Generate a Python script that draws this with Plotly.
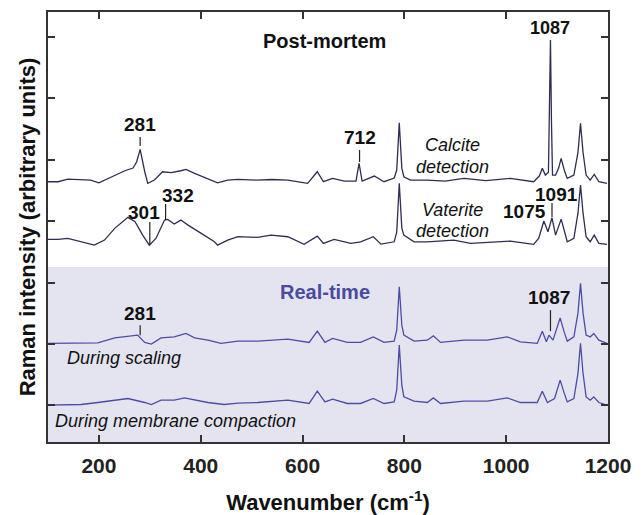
import plotly.graph_objects as go

# ---------------- data ----------------
calcite_wn = [100, 120, 139, 184, 200, 224, 251, 267, 274, 281, 286, 290, 296, 309, 325, 342, 361, 371, 388,
              414, 433, 453, 473, 510, 540, 571, 610, 629, 641, 659, 682, 705, 711, 717, 741, 760, 780, 785,
              790, 795, 799, 812, 845, 880, 917, 960, 1008, 1054, 1065, 1071, 1077, 1083, 1085, 1087, 1089,
              1091, 1097, 1103, 1108, 1114, 1120, 1133, 1141, 1146, 1151, 1157, 1165, 1173, 1182, 1198]
calcite_int = [3.643, 3.643, 3.687, 3.670, 3.626, 3.724, 3.822, 3.866, 3.964, 4.171, 3.964, 3.806, 3.617,
               3.670, 3.806, 3.790, 3.822, 3.845, 3.780, 3.698, 3.626, 3.670, 3.682, 3.670, 3.679, 3.670,
               3.617, 3.806, 3.643, 3.698, 3.654, 3.654, 3.943, 3.654, 3.736, 3.643, 3.703, 3.834, 4.605,
               3.866, 3.724, 3.670, 3.670, 3.654, 3.698, 3.662, 3.698, 3.643, 3.736, 3.861, 3.752, 3.800,
               4.700, 5.954, 4.600, 3.752, 3.752, 3.866, 4.024, 3.834, 3.698, 3.752, 4.120, 4.595, 4.120,
               3.752, 3.670, 3.763, 3.643, 3.617]

vaterite_wn = [100, 120, 139, 165, 191, 211, 231, 257, 271, 286, 299, 312, 329, 335, 348, 361, 375, 401, 427,
               433, 453, 473, 512, 538, 571, 603, 629, 641, 662, 695, 714, 739, 754, 780, 785, 790, 795, 799,
               819, 845, 897, 930, 976, 1008, 1054, 1064, 1074, 1082, 1090, 1097, 1108, 1114, 1120, 1133,
               1141, 1146, 1151, 1157, 1165, 1173, 1182, 1198]
vaterite_int = [2.703, 2.703, 2.719, 2.664, 2.610, 2.692, 2.883, 3.062, 2.990, 2.773, 2.610, 2.719, 3.018,
                3.029, 2.953, 3.018, 2.936, 2.801, 2.664, 2.610, 2.692, 2.749, 2.736, 2.773, 2.746, 2.622,
                2.757, 2.638, 2.703, 2.638, 2.664, 2.746, 2.626, 2.664, 2.822, 3.617, 2.887, 2.773, 2.664,
                2.664, 2.692, 2.638, 2.664, 2.675, 2.622, 2.724, 3.002, 2.827, 3.055, 2.773, 3.034, 2.855,
                2.664, 2.719, 3.130, 3.589, 3.130, 2.746, 2.664, 2.773, 2.638, 2.622]

scaling_wn = [100, 139, 198, 231, 257, 276, 290, 303, 322, 348, 371, 388, 414, 440, 473, 512, 571, 613, 629,
              644, 659, 688, 714, 739, 760, 780, 785, 790, 795, 799, 819, 845, 857, 871, 917, 963, 1002,
              1028, 1061, 1071, 1079, 1084, 1092, 1106, 1114, 1120, 1133, 1141, 1146, 1151, 1157, 1165,
              1172, 1182, 1198]
scaling_int = [1.007, 1.007, 1.016, 1.098, 1.130, 1.142, 1.023, 0.995, 1.098, 1.114, 1.170, 1.098, 1.060,
               1.007, 1.044, 1.044, 1.077, 1.023, 1.207, 1.023, 1.088, 1.023, 1.023, 1.114, 1.023, 1.044,
               1.223, 1.930, 1.305, 1.142, 1.044, 1.060, 1.130, 1.023, 1.060, 1.060, 1.114, 1.033, 1.007,
               1.207, 1.033, 1.142, 1.060, 1.424, 1.191, 1.044, 1.114, 1.500, 1.985, 1.500, 1.142, 1.114,
               1.170, 1.060, 1.007]

compaction_wn = [100, 165, 198, 231, 257, 290, 303, 322, 348, 368, 388, 414, 446, 473, 512, 571, 613, 629,
                 644, 659, 688, 714, 739, 760, 780, 785, 790, 795, 799, 819, 845, 857, 871, 917, 963, 1002,
                 1028, 1061, 1071, 1081, 1095, 1106, 1114, 1120, 1133, 1141, 1146, 1151, 1157, 1165, 1172,
                 1182, 1198]
compaction_int = [0.000, 0.011, 0.044, 0.082, 0.109, 0.044, 0.011, 0.082, 0.082, 0.119, 0.082, 0.044, 0.011,
                  0.033, 0.044, 0.082, 0.028, 0.228, 0.054, 0.098, 0.028, 0.028, 0.109, 0.028, 0.054, 0.245,
                  0.979, 0.326, 0.135, 0.065, 0.044, 0.119, 0.028, 0.065, 0.065, 0.119, 0.044, 0.044, 0.228,
                  0.044, 0.109, 0.408, 0.196, 0.054, 0.109, 0.520, 1.007, 0.520, 0.135, 0.082, 0.135, 0.044,
                  0.000]

x_ticks = [200, 400, 600, 800, 1000, 1200]
y_ticks = [0, 1, 2, 3, 4, 5, 6]

# ---------------- styling ----------------
PM_COLOR = "#2e2e52"
RT_COLOR = "#4c4ca6"
SHADE = "#e4e4f1"
FONT = "Liberation Sans, Arial, sans-serif"

fig = go.Figure()
for wn, val, col in [(calcite_wn, calcite_int, PM_COLOR), (vaterite_wn, vaterite_int, PM_COLOR),
                     (scaling_wn, scaling_int, RT_COLOR), (compaction_wn, compaction_int, RT_COLOR)]:
    fig.add_trace(go.Scatter(x=wn, y=val, mode="lines", line=dict(color=col, width=1.3),
                             showlegend=False, hoverinfo="skip"))

# shaded real-time region
fig.add_shape(type="rect", xref="x domain", yref="y", x0=0, x1=1, y0=-0.6, y1=2.251,
              fillcolor=SHADE, line_width=0, layer="below")

# peak marker lines
for x, y0, y1 in [(281, 4.225, 4.372), (712, 3.964, 4.160), (300, 2.610, 2.985), (331, 3.018, 3.279),
                  (1090, 3.067, 3.295), (281, 1.142, 1.305), (1087, 1.207, 1.550)]:
    fig.add_shape(type="line", x0=x, x1=x, y0=y0, y1=y1, line=dict(color="#222222", width=1.2))

def ann(text, x, y, size, bold=False, italic=False, color="#111111", xanchor="center"):
    t = text
    if bold:
        t = "<b>" + t + "</b>"
    if italic:
        t = "<i>" + t + "</i>"
    fig.add_annotation(x=x, y=y, text=t, showarrow=False, xanchor=xanchor, yanchor="middle",
                       font=dict(family=FONT, size=size, color=color))

ann("Post-mortem", 643, 5.935, 20, bold=True)
ann("1087", 1087, 6.150, 18, bold=True)
ann("281", 281, 4.568, 19, bold=True)
ann("712", 712, 4.356, 19, bold=True)
ann("301", 288, 3.148, 19, bold=True)
ann("332", 355, 3.426, 19, bold=True)
ann("Calcite", 894, 4.241, 18, italic=True)
ann("detection", 894, 3.883, 18, italic=True)
ann("Vaterite", 894, 3.181, 18, italic=True)
ann("detection", 894, 2.838, 18, italic=True)
ann("1091", 1098, 3.440, 19, bold=True)
ann("1075", 1035, 3.165, 19, bold=True)
ann("Real-time", 645, 1.843, 20, bold=True, color="#4a4a9e")
ann("281", 280, 1.501, 19, bold=True)
ann("1087", 1084, 1.762, 19, bold=True)
ann("During scaling", 133, 0.767, 18, italic=True, xanchor="left")
ann("During membrane compaction", 110, -0.261, 18, italic=True, xanchor="left")

axis_common = dict(showline=True, linecolor="#333333", linewidth=2, mirror="ticks",
                   ticks="inside", ticklen=7, tickwidth=1.5, tickcolor="#333333",
                   showgrid=False, zeroline=False, automargin=False)

fig.update_xaxes(range=[100, 1200], tickvals=x_ticks, ticktext=[str(v) for v in x_ticks],
                 tickfont=dict(family=FONT, size=21, color="#222222", weight="bold"),
                 ticklabelstandoff=4,
                 title=dict(text="<b>Wavenumber (cm<sup>-1</sup>)</b>",
                            font=dict(family=FONT, size=22, color="#111111"), standoff=22),
                 **axis_common)
fig.update_yaxes(range=[-0.6, 6.41], tickvals=y_ticks, showticklabels=False,
                 title=dict(text="<b>Raman intensity (arbitrary units)</b>",
                            font=dict(family=FONT, size=22, color="#111111"), standoff=4),
                 **axis_common)

fig.update_layout(width=643, height=515, margin=dict(l=48, r=35, t=12, b=73),
                  paper_bgcolor="white", plot_bgcolor="white",
                  font=dict(family=FONT))

fig.write_html("out.html")
